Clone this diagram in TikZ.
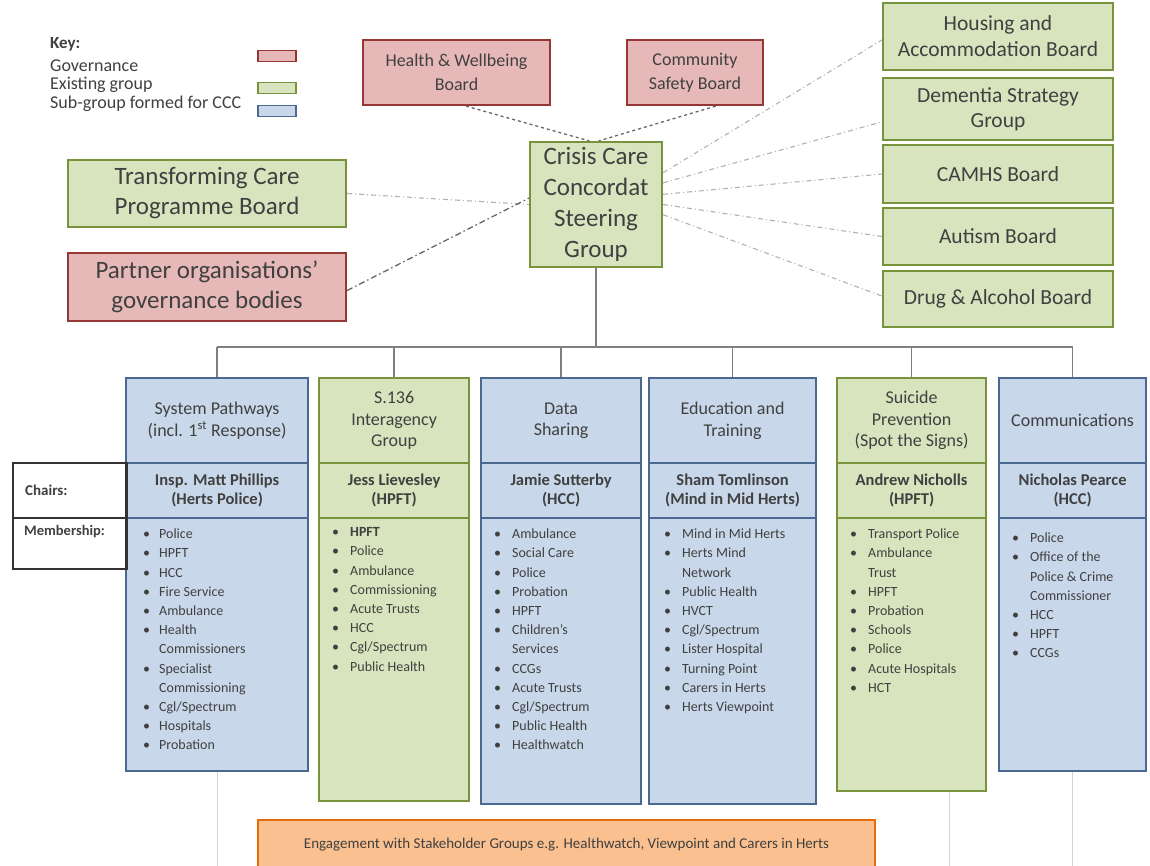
\documentclass[tikz,border=0pt]{standalone}
\usepackage{fontspec}
\setmainfont{Carlito}
\usetikzlibrary{calc}
\definecolor{govfill}{HTML}{E6B9B8}
\definecolor{govdraw}{HTML}{953735}
\definecolor{exfill}{HTML}{D7E4BD}
\definecolor{exdraw}{HTML}{77933C}
\definecolor{subfill}{HTML}{C9D7EA}
\definecolor{subdraw}{HTML}{4A6890}
\definecolor{orfill}{HTML}{FAC08F}
\definecolor{ordraw}{HTML}{E46C0A}
\definecolor{txt}{HTML}{404040}
\definecolor{conn}{HTML}{7F7F7F}
\newcommand{\memfont}{\fontsize{14}{19.2}\selectfont}
\newcommand{\hdfont}{\fontsize{18}{21.5}\selectfont}
\newcommand{\chfont}{\fontsize{16.5}{19}\selectfont\bfseries}
\begin{document}
\begin{tikzpicture}[x=1pt,y=-1pt,
  basebox/.style={line width=2.2pt, inner sep=2pt, align=center, text=txt},
  govbox/.style={basebox, draw=govdraw, fill=govfill},
  exbox/.style={basebox, draw=exdraw, fill=exfill},
  subbox/.style={basebox, draw=subdraw, fill=subfill},
  swatch/.style={line width=1.6pt, minimum width=38pt, minimum height=11pt, inner sep=0pt},
  keytext/.style={anchor=west, text=txt, font=\fontsize{18}{20}\selectfont, inner sep=0pt},
  members/.style={anchor=north west, text=txt, font=\memfont, inner sep=0pt, align=left},
  dashconn/.style={draw=conn!80!black, line width=1.3pt, dashed},
  lightconn/.style={draw=conn!60, line width=1.1pt, dash pattern=on 5pt off 3pt on 1pt off 3pt},
  busline/.style={draw=conn, line width=1.4pt},
  faint/.style={draw=conn!35, line width=1.2pt},
  lblbox/.style={draw=txt!80!black, fill=white, line width=1.8pt, anchor=north west, inner sep=0pt}
]
\useasboundingbox[fill=white] (0,0) rectangle (1150,866);

% ---------- Key ----------
\node[keytext, font=\fontsize{17}{20}\selectfont\bfseries] (keyt) at (50,44) {Key:};
\node[keytext] (kg) at (50,66) {Governance};
\node[keytext] (ke) at (50,85) {Existing group};
\node[keytext] (ks) at (50,104) {Sub-group formed for CCC};
\node[swatch, draw=govdraw, fill=govfill] (swg) at (277,56) {};
\node[swatch, draw=exdraw, fill=exfill] (swe) at (277,88) {};
\node[swatch, draw=subdraw, fill=subfill] (sws) at (277,111) {};

% ---------- Governance / existing boards ----------
\node[govbox, minimum width=187pt, minimum height=65pt, font=\fontsize{18}{24}\selectfont] (hwb) at (456.5,72.5) {Health \& Wellbeing\\Board};
\node[govbox, minimum width=136pt, minimum height=65pt, font=\fontsize{18}{24}\selectfont] (csb) at (695,72.5) {Community\\Safety Board};
\node[exbox, minimum width=132pt, minimum height=125pt, font=\fontsize{25}{31}\selectfont] (ccc) at (596,204.5) {Crisis Care\\Concordat\\Steering\\Group};
\node[exbox, minimum width=278pt, minimum height=67pt, font=\fontsize{25}{30}\selectfont] (tcpb) at (207,193.5) {Transforming Care\\Programme Board};
\node[govbox, minimum width=278pt, minimum height=68pt, font=\fontsize{25}{30}\selectfont] (pogb) at (207,287) {Partner organisations'\\governance bodies};

\node[exbox, minimum width=230pt, minimum height=67pt, font=\fontsize{21.5}{26}\selectfont] (hab) at (998,36.5) {Housing and\\Accommodation Board};
\node[exbox, minimum width=230pt, minimum height=62pt, font=\fontsize{21.5}{25}\selectfont] (dsg) at (998,109) {Dementia Strategy\\Group};
\node[exbox, minimum width=230pt, minimum height=58pt, font=\fontsize{21.5}{25}\selectfont] (camhs) at (998,174) {CAMHS Board};
\node[exbox, minimum width=230pt, minimum height=57pt, font=\fontsize{21.5}{25}\selectfont] (aut) at (998,236.5) {Autism Board};
\node[exbox, minimum width=230pt, minimum height=56pt, font=\fontsize{21.5}{25}\selectfont] (dab) at (998,299) {Drug \& Alcohol Board};

% ---------- dashed connectors ----------
\draw[dashconn] ($(hwb.south west)!0.55!(hwb.south east)$) -- ($(ccc.north west)!0.45!(ccc.north east)$);
\draw[dashconn] ($(csb.south west)!0.65!(csb.south east)$) -- ($(ccc.north west)!0.52!(ccc.north east)$);
\draw[lightconn] (tcpb.east) -- ($(ccc.north west)!0.5!(ccc.south west)$);
\draw[dashconn, dash pattern=on 6pt off 3pt on 1.5pt off 3pt] ($(pogb.north east)!0.55!(pogb.south east)$) -- ($(ccc.north west)!0.45!(ccc.south west)$);
\draw[lightconn] ($(ccc.north east)!0.25!(ccc.south east)$) -- ($(hab.north west)!0.55!(hab.south west)$);
\draw[lightconn] ($(ccc.north east)!0.33!(ccc.south east)$) -- ($(dsg.north west)!0.7!(dsg.south west)$);
\draw[lightconn] ($(ccc.north east)!0.42!(ccc.south east)$) -- (camhs.west);
\draw[lightconn] ($(ccc.north east)!0.5!(ccc.south east)$) -- (aut.west);
\draw[lightconn] ($(ccc.north east)!0.58!(ccc.south east)$) -- ($(dab.north west)!0.45!(dab.south west)$);

% ---------- columns ----------
% column 1
\node[subbox, anchor=north west, minimum width=182pt, minimum height=85pt, font=\hdfont] (h1) at (125,377) {System Pathways\\(incl. 1\textsuperscript{st} Response)};
\node[subbox, anchor=north west, minimum width=182pt, minimum height=55pt, font=\chfont] (c1) at (125,462) {Insp. Matt Phillips\\(Herts Police)};
\node[subbox, anchor=north west, minimum width=182pt, minimum height=253pt] (m1) at (125,517) {};
% column 2
\node[exbox, anchor=north west, minimum width=150pt, minimum height=85pt, font=\hdfont] (h2) at (318,377) {S.136\\Interagency\\Group};
\node[exbox, anchor=north west, minimum width=150pt, minimum height=55pt, font=\chfont] (c2) at (318,462) {Jess Lievesley\\(HPFT)};
\node[exbox, anchor=north west, minimum width=150pt, minimum height=283pt] (m2) at (318,517) {};
% column 3
\node[subbox, anchor=north west, minimum width=160pt, minimum height=85pt, font=\hdfont] (h3) at (480,377) {Data\\Sharing};
\node[subbox, anchor=north west, minimum width=160pt, minimum height=55pt, font=\chfont] (c3) at (480,462) {Jamie Sutterby\\(HCC)};
\node[subbox, anchor=north west, minimum width=160pt, minimum height=286pt] (m3) at (480,517) {};
% column 4
\node[subbox, anchor=north west, minimum width=167pt, minimum height=85pt, font=\hdfont] (h4) at (648,377) {Education and\\Training};
\node[subbox, anchor=north west, minimum width=167pt, minimum height=55pt, font=\chfont] (c4) at (648,462) {Sham Tomlinson\\(Mind in Mid Herts)};
\node[subbox, anchor=north west, minimum width=167pt, minimum height=286pt] (m4) at (648,517) {};
% column 5
\node[exbox, anchor=north west, minimum width=149pt, minimum height=85pt, font=\hdfont] (h5) at (836,377) {Suicide\\Prevention\\(Spot the Signs)};
\node[exbox, anchor=north west, minimum width=149pt, minimum height=55pt, font=\chfont] (c5) at (836,462) {Andrew Nicholls\\(HPFT)};
\node[exbox, anchor=north west, minimum width=149pt, minimum height=273pt] (m5) at (836,517) {};
% column 6
\node[subbox, anchor=north west, minimum width=147pt, minimum height=85pt, font=\hdfont] (h6) at (998,377) {Communications};
\node[subbox, anchor=north west, minimum width=147pt, minimum height=55pt, font=\chfont] (c6) at (998,462) {Nicholas Pearce\\(HCC)};
\node[subbox, anchor=north west, minimum width=147pt, minimum height=253pt] (m6) at (998,517) {};

% member lists
\node[members] (l1) at ($(m1.north west)+(18,8)$) {\begin{tabular}{@{}l@{\hspace{9pt}}l@{}}
\textbullet & Police\\ \textbullet & HPFT\\ \textbullet & HCC\\ \textbullet & Fire Service\\ \textbullet & Ambulance\\
\textbullet & Health\\ & Commissioners\\ \textbullet & Specialist\\ & Commissioning\\ \textbullet & Cgl/Spectrum\\
\textbullet & Hospitals\\ \textbullet & Probation\end{tabular}};
\node[members] (l2) at ($(m2.north west)+(14,6)$) {\begin{tabular}{@{}l@{\hspace{11pt}}l@{}}
\textbullet & \textbf{HPFT}\\ \textbullet & Police\\ \textbullet & Ambulance\\ \textbullet & Commissioning\\ \textbullet & Acute Trusts\\
\textbullet & HCC\\ \textbullet & Cgl/Spectrum\\ \textbullet & Public Health\end{tabular}};
\node[members] (l3) at ($(m3.north west)+(14,8)$) {\begin{tabular}{@{}l@{\hspace{11pt}}l@{}}
\textbullet & Ambulance\\ \textbullet & Social Care\\ \textbullet & Police\\ \textbullet & Probation\\ \textbullet & HPFT\\
\textbullet & Children's\\ & Services\\ \textbullet & CCGs\\ \textbullet & Acute Trusts\\ \textbullet & Cgl/Spectrum\\
\textbullet & Public Health\\ \textbullet & Healthwatch\end{tabular}};
\node[members] (l4) at ($(m4.north west)+(16,8)$) {\begin{tabular}{@{}l@{\hspace{11pt}}l@{}}
\textbullet & Mind in Mid Herts\\ \textbullet & Herts Mind\\ & Network\\ \textbullet & Public Health\\ \textbullet & HVCT\\
\textbullet & Cgl/Spectrum\\ \textbullet & Lister Hospital\\ \textbullet & Turning Point\\ \textbullet & Carers in Herts\\
\textbullet & Herts Viewpoint\end{tabular}};
\node[members] (l5) at ($(m5.north west)+(14,8)$) {\begin{tabular}{@{}l@{\hspace{11pt}}l@{}}
\textbullet & Transport Police\\ \textbullet & Ambulance\\ & Trust\\ \textbullet & HPFT\\ \textbullet & Probation\\
\textbullet & Schools\\ \textbullet & Police\\ \textbullet & Acute Hospitals\\ \textbullet & HCT\end{tabular}};
\node[members] (l6) at ($(m6.north west)+(14,12)$) {\begin{tabular}{@{}l@{\hspace{11pt}}l@{}}
\textbullet & Police\\ \textbullet & Office of the\\ & Police \& Crime\\ & Commissioner\\ \textbullet & HCC\\
\textbullet & HPFT\\ \textbullet & CCGs\end{tabular}};

% ---------- Chairs / Membership labels ----------
\node[lblbox, minimum width=113pt, minimum height=55pt] (chairs) at (12,462) {};
\node[anchor=west, text=txt, font=\fontsize{15}{17}\selectfont\bfseries, inner sep=0pt] (chairst) at ($(chairs.west)+(13,0)$) {Chairs:};
\node[lblbox, minimum width=113pt, minimum height=51pt] (memb) at (12,517) {};
\node[anchor=north west, text=txt, font=\fontsize{14.5}{17}\selectfont\bfseries, inner sep=0pt] (membt) at ($(memb.north west)+(12,8)$) {Membership:};
\draw[txt!80!black, line width=1.8pt] (chairs.north east) -- (memb.south east);

% ---------- tree connectors ----------
\coordinate (busl) at (h1.north |- 0,347);
\coordinate (busr) at (h6.north |- 0,347);
\draw[busline] (ccc.south) -- (ccc.south |- busl);
\draw[busline] (busl) -- (busr);
\foreach \h in {h1,h2,h3,h4,h5,h6}{
  \draw[busline] (\h.north |- busl) -- (\h.north);
}

% ---------- bottom engagement bar ----------
\draw[faint] (m1.south) -- ++(0,100);
\draw[faint] ($(m5.south)+(38,0)$) -- ++(0,100);
\draw[faint] (m6.south) -- ++(0,100);
\node[basebox, draw=ordraw, fill=orfill, line width=2pt, minimum width=617pt, minimum height=50pt, font=\fontsize{15}{17}\selectfont] (eng) at (566.5,845) {Engagement with Stakeholder Groups e.g. Healthwatch, Viewpoint and Carers in Herts};
\end{tikzpicture}
\end{document}
